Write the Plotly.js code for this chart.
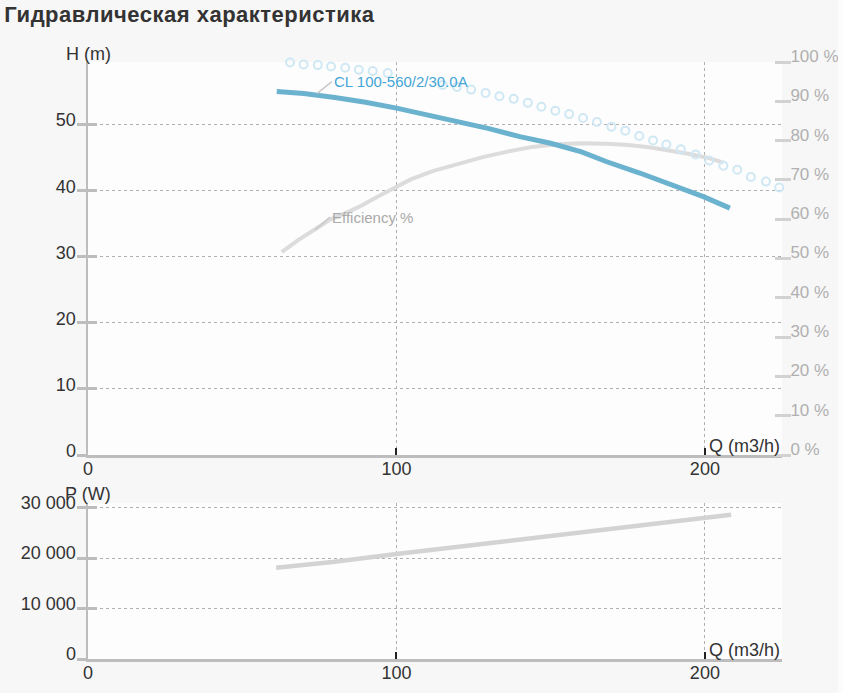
<!DOCTYPE html>
<html>
<head>
<meta charset="utf-8">
<script src="https://cdn.plot.ly/plotly-3.0.1.min.js"></script>
<style>
  html, body { margin: 0; padding: 0; background: #fcfcfc; }
  #chart { width: 838px; height: 693px; }
  #chart .gtitle { letter-spacing: 0.5px; }
</style>
</head>
<body>
<div id="chart"></div>
<script>
// ---- Data ----
var qTicks = [0, 100, 200];
var hTicks = [0, 10, 20, 30, 40, 50];
var effTicks = [0, 10, 20, 30, 40, 50, 60, 70, 80, 90, 100];
var effTickLabels = ['0 %', '10 %', '20 %', '30 %', '40 %', '50 %', '60 %', '70 %', '80 %', '90 %', '100 %'];
var pTicks = [0, 10000, 20000, 30000];
var pTickLabels = ['0', '10 000', '20 000', '30 000'];

// Head curve H (m) vs Q (m3/h)
var headQ = [61.2, 70, 80, 90, 100, 110, 120, 130, 140, 150, 160, 168.2, 178.9, 188.6, 199.7, 208.1];
var headH = [54.9, 54.6, 54.0, 53.3, 52.4, 51.4, 50.3, 49.3, 48.1, 47.1, 45.8, 44.3, 42.6, 40.9, 39.0, 37.3];

// Efficiency (%) vs Q
var effQ = [62.8, 68, 73.4, 78.2, 83, 88, 94, 99.9, 104.8, 112, 120.5, 128, 136, 144, 152, 160, 168, 175, 182, 189, 195, 201, 206];
var effVal = [51.6, 54.6, 57.3, 59.8, 61.4, 63.2, 65.8, 68.3, 70.2, 72.3, 74.2, 75.8, 77.2, 78.4, 79.1, 79.3, 79.2, 78.9, 78.3, 77.5, 76.6, 75.6, 74.4];

// Dotted (circle) curve, H (m) vs Q
var circQ = [65.5, 69.9, 74.5, 78.8, 83.4, 87.8, 92.3, 97.2, 115, 119.6, 124.2, 128.9, 133.4, 138, 142.6, 147, 151.5, 156, 160.5, 165, 169.7, 174.2, 178.7, 183.2, 187.5, 192.2, 197, 201.4, 206, 210.5, 214.9, 219.8, 224.1];
var circH = [59.3, 59.0, 58.9, 58.7, 58.5, 58.2, 58.0, 57.7, 55.9, 55.6, 55.2, 54.7, 54.2, 53.8, 53.2, 52.6, 52.0, 51.5, 50.9, 50.3, 49.6, 49.0, 48.2, 47.5, 46.9, 46.2, 45.4, 44.5, 43.7, 43.1, 42.0, 41.3, 40.4];

// Power P (W) vs Q
var powQ = [61, 80, 100, 120, 140, 160, 180, 200, 208.5];
var powP = [18100, 19300, 20800, 22200, 23700, 25100, 26500, 27900, 28600];

var pumpName = 'CL 100-560/2/30.0A';
var effName = 'Efficiency %';

// ---- Traces ----
var traces = [
  { x: effQ, y: effVal, xaxis: 'x', yaxis: 'y', mode: 'lines',
    line: { color: '#dcdcdc', width: 4 }, hoverinfo: 'skip' },
  { x: circQ, y: circH, xaxis: 'x', yaxis: 'y2', mode: 'markers', cliponaxis: false,
    marker: { symbol: 'circle-open', size: 8, line: { width: 2, color: '#cfe8f4' }, color: '#cfe8f4' },
    hoverinfo: 'skip' },
  { x: headQ, y: headH, xaxis: 'x', yaxis: 'y2', mode: 'lines',
    line: { color: '#6bb2ce', width: 5 }, hoverinfo: 'skip' },
  { x: [], y: [], xaxis: 'x', yaxis: 'y4', mode: 'lines', hoverinfo: 'skip' },
  { x: powQ, y: powP, xaxis: 'x2', yaxis: 'y3', mode: 'lines',
    line: { color: '#d3d3d3', width: 4.5 }, hoverinfo: 'skip' },
  { x: [], y: [], xaxis: 'x2', yaxis: 'y5', mode: 'lines', hoverinfo: 'skip' }
];

var font = 'Liberation Sans, Arial, sans-serif';
var gridC = '#b0b0b0';
var axisC = '#bdbdbd';

function xAxis(anchor) {
  return {
    anchor: anchor, domain: [0, 1], range: [0, 225],
    tickvals: qTicks, ticks: 'inside', ticklen: 7, tickwidth: 2, tickcolor: '#222',
    showline: true, linecolor: axisC, linewidth: 2.5,
    showgrid: true, gridcolor: gridC, griddash: 'dot', gridwidth: 1,
    zeroline: false, fixedrange: true, tickfont: { size: 18, color: '#333' },
    ticklabelstandoff: -4
  };
}

var layout = {
  width: 838, height: 693,
  paper_bgcolor: '#f7f7f7', plot_bgcolor: '#fdfdfd',
  margin: { l: 88, r: 56, t: 62, b: 34, pad: 0 },
  showlegend: false,
  font: { family: font, size: 18, color: '#333' },
  title: {
    text: 'Гидравлическая характеристика',
    font: { family: font, size: 22, weight: 700, color: '#333' },
    xref: 'container', x: 0.005, xanchor: 'left',
    yref: 'container', y: 1 - 14 / 693, yanchor: 'middle'
  },
  xaxis: xAxis('y'),
  xaxis2: xAxis('y3'),
  yaxis: {
    domain: [0.3417, 1], anchor: 'free', position: 0.9885, side: 'right',
    range: [0, 100], tickvals: effTicks, ticktext: effTickLabels,
    ticks: 'outside', ticklen: 16, tickwidth: 3, tickcolor: '#d2d2d2',
    tickfont: { size: 17, color: '#b0b0b0' },
    showgrid: false, zeroline: false, showline: false,
    ticklabelshift: -6, ticklabelstandoff: -4, fixedrange: true
  },
  yaxis2: {
    overlaying: 'y', anchor: 'x', side: 'left', range: [0, 59.37], tickvals: hTicks,
    ticks: 'outside', ticklen: 9, tickwidth: 3, tickcolor: axisC,
    showline: true, linecolor: axisC, linewidth: 2.5,
    showgrid: true, gridcolor: gridC, griddash: 'dot', gridwidth: 1,
    zeroline: false, ticklabelshift: -4, ticklabelstandoff: -3, fixedrange: true,
    tickfont: { size: 18, color: '#333' }
  },
  yaxis4: {
    overlaying: 'y', anchor: 'x', side: 'left', range: [0, 59.37], tickvals: hTicks,
    ticks: 'inside', ticklen: 9, tickwidth: 3, tickcolor: axisC,
    showticklabels: false, showline: false, showgrid: false, zeroline: false, fixedrange: true
  },
  yaxis3: {
    domain: [0, 0.2613], anchor: 'x2', range: [0, 30930],
    tickvals: pTicks, ticktext: pTickLabels,
    ticks: 'outside', ticklen: 9, tickwidth: 3, tickcolor: axisC,
    showline: true, linecolor: axisC, linewidth: 2.5,
    showgrid: true, gridcolor: gridC, griddash: 'dot', gridwidth: 1,
    zeroline: false, ticklabelshift: -5, ticklabelstandoff: -3, fixedrange: true,
    tickfont: { size: 18, color: '#333' }
  },
  yaxis5: {
    overlaying: 'y3', anchor: 'x2', side: 'left', range: [0, 30930], tickvals: pTicks,
    ticks: 'inside', ticklen: 9, tickwidth: 3, tickcolor: axisC,
    showticklabels: false, showline: false, showgrid: false, zeroline: false, fixedrange: true
  },
  annotations: [
    { text: 'H (m)', xref: 'paper', x: 0.036, xanchor: 'right', yref: 'paper', y: 1.0134, yanchor: 'middle',
      showarrow: false, font: { size: 18, color: '#333' } },
    { text: 'P (W)', xref: 'paper', x: 0.036, xanchor: 'right', yref: 'paper', y: 0.2764, yanchor: 'middle',
      showarrow: false, font: { size: 18, color: '#333' } },
    { text: 'Q (m3/h)', xref: 'x domain', x: 1, xanchor: 'right', yref: 'y domain', y: 0, yanchor: 'bottom',
      yshift: -3, showarrow: false, font: { size: 18, color: '#333' } },
    { text: 'Q (m3/h)', xref: 'x2 domain', x: 1, xanchor: 'right', yref: 'y3 domain', y: 0, yanchor: 'bottom',
      yshift: -3, showarrow: false, font: { size: 18, color: '#333' } },
    { text: pumpName, xref: 'x', yref: 'y2', x: 74.2, y: 54.6, showarrow: true, arrowhead: 0,
      arrowwidth: 1.5, arrowcolor: '#c8c8c8', ax: 15, ay: -12, xanchor: 'left', yanchor: 'middle',
      font: { size: 15, color: '#45a5d6' } },
    { text: effName, xref: 'x', yref: 'y', x: 73.6, y: 57.25, showarrow: true, arrowhead: 0,
      arrowwidth: 1.5, arrowcolor: '#c8c8c8', ax: 15, ay: -13, xanchor: 'left', yanchor: 'middle',
      font: { size: 15, color: '#aaaaaa' } }
  ]
};

Plotly.newPlot('chart', traces, layout, { staticPlot: true, displayModeBar: false });
</script>
</body>
</html>
